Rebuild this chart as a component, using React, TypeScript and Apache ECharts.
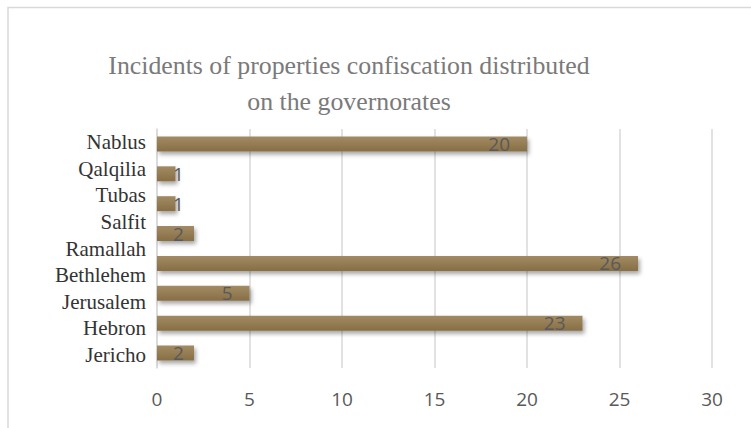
import React, { useEffect, useRef } from "react";
import * as echarts from "echarts";

const titleLines = ["Incidents of properties confiscation distributed", "on the governorates"];
// Axis labels as printed (bottom to top)
const governorates = ["Jericho", "Hebron", "Jerusalem", "Bethlehem", "Ramallah", "Salfit", "Tubas", "Qalqilia", "Nablus"];
// Bars as drawn (bottom to top)
const barSlots = ["b1", "b2", "b3", "b4", "b5", "b6", "b7", "b8"];
const barValues = [2, 23, 5, 26, 2, 1, 1, 20];
const xTicks = { min: 0, max: 30, interval: 5 };

export default function App() {
  const ref = useRef<HTMLDivElement>(null);
  useEffect(() => {
    if (!ref.current) return;
    const chart = echarts.init(ref.current, null, { renderer: "svg" });
    const barColor = new echarts.graphic.LinearGradient(0, 0, 0, 1, [
      { offset: 0, color: "#a28b63" },
      { offset: 1, color: "#876e45" },
    ]);
    chart.setOption({
      animation: false,
      backgroundColor: "#ffffff",
      graphic: [
        {
          type: "rect",
          shape: { x: 8, y: 7.5, width: 900, height: 600 },
          style: { fill: "none", stroke: "#d9d9d9", lineWidth: 1.5 },
          silent: true,
        },
        {
          type: "text",
          x: 349,
          y: 65,
          style: {
            text: titleLines[0],
            font: "25.8px 'Liberation Serif'",
            fill: "#7a7a7a",
            textAlign: "center",
            textVerticalAlign: "middle",
          },
        },
        {
          type: "text",
          x: 349,
          y: 101,
          style: {
            text: titleLines[1],
            font: "25.8px 'Liberation Serif'",
            fill: "#7a7a7a",
            textAlign: "center",
            textVerticalAlign: "middle",
          },
        },
      ],
      grid: { left: 157, right: 39, top: 129, bottom: 60, containLabel: false },
      xAxis: {
        type: "value",
        min: xTicks.min,
        max: xTicks.max,
        interval: xTicks.interval,
        axisLine: { show: false },
        axisTick: { show: false },
        splitLine: { show: true, lineStyle: { color: "#d9d9d9", width: 1.5 } },
        axisLabel: { color: "#595959", fontSize: 19, fontFamily: "Open Sans", margin: 21 },
      },
      yAxis: [
        {
          type: "category",
          data: barSlots,
          axisLine: { show: true, lineStyle: { color: "#d9d9d9", width: 1.5 } },
          axisTick: { show: false },
          axisLabel: { show: false },
        },
        {
          type: "category",
          position: "left",
          data: governorates,
          axisLine: { show: false },
          axisTick: { show: false },
          axisLabel: {
            interval: 0,
            hideOverlap: false,
            color: "#333333",
            fontSize: 21,
            fontFamily: "Liberation Serif",
            margin: 11,
          },
        },
      ],
      series: [
        {
          type: "bar",
          yAxisIndex: 0,
          barWidth: 15,
          data: barValues.map((v) => ({
            value: v,
            label:
              v >= 5
                ? { position: "insideRight", distance: 17 }
                : { position: "insideLeft", distance: 16 },
          })),
          itemStyle: {
            color: barColor,
            shadowColor: "rgba(0,0,0,0.35)",
            shadowBlur: 4,
            shadowOffsetX: 2,
            shadowOffsetY: 3,
          },
          label: {
            show: true,
            color: "#595959",
            fontSize: 19,
            fontFamily: "Open Sans",
          },
        },
      ],
    });
    return () => chart.dispose();
  }, []);
  return <div ref={ref} style={{ position: "absolute", left: 0, top: 0, width: 751, height: 428 }} />;
}
